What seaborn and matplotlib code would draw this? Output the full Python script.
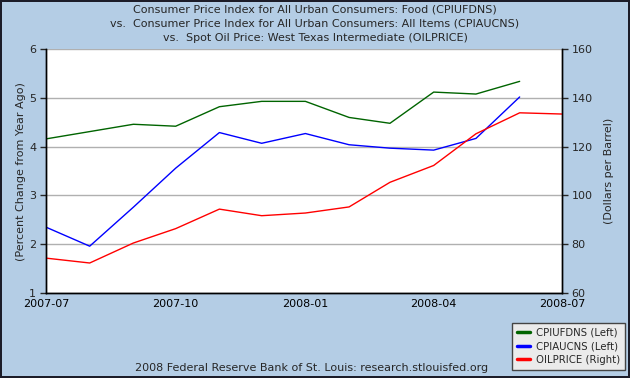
import matplotlib
matplotlib.use("Agg")
from matplotlib import pyplot as plt
import matplotlib.dates as mdates
import seaborn as sns
import pandas as pd

# monthly values
food_dates = pd.date_range("2007-07-01", periods=12, freq="MS")
food_pct = [4.16, 4.31, 4.46, 4.42, 4.82, 4.93, 4.93, 4.60, 4.48, 5.12, 5.08, 5.34]
all_pct = [2.35, 1.96, 2.76, 3.56, 4.29, 4.07, 4.27, 4.04, 3.97, 3.93, 4.17, 5.02]
oil_dates = pd.date_range("2007-07-01", periods=13, freq="MS")
oil_price = [74.3, 72.3, 80.5, 86.4, 94.4, 91.7, 92.8, 95.3, 105.4, 112.3, 125.3, 133.9, 133.4]

left_ticks = [1, 2, 3, 4, 5, 6]
right_ticks = [60, 80, 100, 120, 140, 160]
x_ticks = ["2007-07-01", "2007-10-01", "2008-01-01", "2008-04-01", "2008-07-01"]

df = pd.DataFrame({"date": food_dates, "CPIUFDNS": food_pct, "CPIAUCNS": all_pct})
oil = pd.DataFrame({"date": oil_dates, "OILPRICE": oil_price})

sns.set_style("white")
plt.rcParams["font.family"] = ["DejaVu Sans"]
plt.rcParams["font.size"] = 8

bg = "#B4CDE5"
fig = plt.figure(figsize=(6.3, 3.78), dpi=100)
fig.patch.set_facecolor(bg)
fig.patch.set_edgecolor("#1c1c28")
fig.patch.set_linewidth(1.5)

ax = fig.add_axes([0.073, 0.2249, 0.819, 0.645])
ax.set_facecolor("white")
ax2 = ax.twinx()

sns.lineplot(data=df, x="date", y="CPIUFDNS", ax=ax, color="#006400", lw=1.0, label="CPIUFDNS (Left)", legend=False)
sns.lineplot(data=df, x="date", y="CPIAUCNS", ax=ax, color="#0000FF", lw=1.0, label="CPIAUCNS (Left)", legend=False)
sns.lineplot(data=oil, x="date", y="OILPRICE", ax=ax2, color="#FF0000", lw=1.0, label="OILPRICE (Right)", legend=False)

ax.set_ylim(1, 6)
ax2.set_ylim(60, 160)
ax.set_yticks(left_ticks)
ax2.set_yticks(right_ticks)
xt = pd.to_datetime(x_ticks)
ax.set_xlim(xt[0], xt[-1])
ax.set_xticks(xt)
ax.xaxis.set_major_formatter(mdates.DateFormatter("%Y-%m"))

ax.grid(axis="y", color="#B0B0B0", lw=1.0)
ax.grid(axis="x", visible=False)
ax2.grid(False)
ax.set_axisbelow(True)

for a in (ax, ax2):
    for s in a.spines.values():
        s.set_color("black")
        s.set_linewidth(1.0)
    a.spines["top"].set_visible(False)

ax.tick_params(axis="x", direction="in", length=5, width=1, pad=4, labelsize=8, colors="black")
ax.tick_params(axis="y", direction="out", length=4, width=1, pad=3, labelsize=8, left=True)
ax2.tick_params(axis="y", direction="out", length=4, width=1, pad=3, labelsize=8, right=True)
ax.set_xlabel("")
ax.set_ylabel("(Percent Change from Year Ago)", fontsize=8, labelpad=2)
ax2.set_ylabel("(Dollars per Barrel)", fontsize=8, labelpad=8)

fig.text(0.5, 0.988, "Consumer Price Index for All Urban Consumers: Food (CPIUFDNS)", ha="center", va="top", fontsize=8)
fig.text(0.5, 0.951, "vs.  Consumer Price Index for All Urban Consumers: All Items (CPIAUCNS)", ha="center", va="top", fontsize=8)
fig.text(0.5, 0.914, "vs.  Spot Oil Price: West Texas Intermediate (OILPRICE)", ha="center", va="top", fontsize=8)
fig.text(0.495, 0.027, "2008 Federal Reserve Bank of St. Louis: research.stlouisfed.org", ha="center", va="center", fontsize=8)

h1, l1 = ax.get_legend_handles_labels()
h2, l2 = ax2.get_legend_handles_labels()
leg = fig.legend(h1 + h2, l1 + l2, loc="lower right", bbox_to_anchor=(1.0, 0.008),
                 fontsize=7.3, frameon=True, fancybox=False, handlelength=1.2, handletextpad=0.6,
                 borderpad=0.5, labelspacing=0.35, facecolor="#EBEBEB", edgecolor="#444444", framealpha=1)
for line in leg.get_lines():
    line.set_linewidth(2.5)

plt.savefig("out.png", dpi=100, facecolor=fig.get_facecolor(), edgecolor=fig.get_edgecolor())
